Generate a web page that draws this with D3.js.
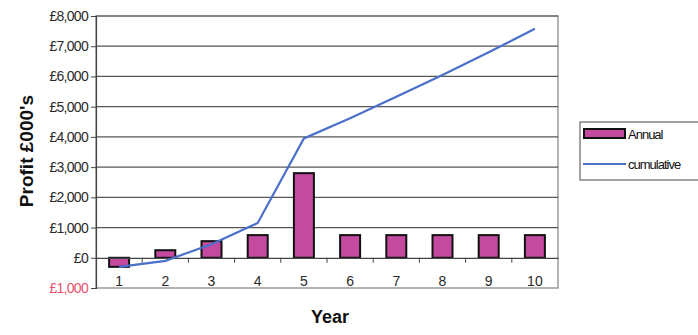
<!DOCTYPE html>
<html>
<head>
<meta charset="utf-8">
<script src="https://cdn.jsdelivr.net/npm/d3@7"></script>
<style>
  body { margin: 0; background: #fff; }
  text { font-family: Arial, "Liberation Sans", sans-serif; }
</style>
</head>
<body>
<script>
// chart data
const years = ["1", "2", "3", "4", "5", "6", "7", "8", "9", "10"];
const annual = [-300, 250, 550, 750, 2800, 750, 750, 750, 750, 750];
const cumulative = [-300, -100, 450, 1150, 3950, 4620, 5330, 6050, 6800, 7580];
const yTicks = [-1000, 0, 1000, 2000, 3000, 4000, 5000, 6000, 7000, 8000];

const W = 698, H = 335;
const pLeft = 96, pRight = 558, pTop = 16, pBottom = 288;

const svg = d3.select("body").append("svg")
    .attr("width", W)
    .attr("height", H);

const x = d3.scaleBand().domain(years).range([pLeft, pRight]);
const y = d3.scaleLinear().domain([-1000, 8000]).range([pBottom, pTop]);

// plot border
svg.append("rect")
    .attr("x", pLeft).attr("y", pTop)
    .attr("width", pRight - pLeft).attr("height", pBottom - pTop)
    .attr("fill", "none").attr("stroke", "#9a9a9a").attr("stroke-width", 1.5);

// gridlines
svg.selectAll("line.grid")
    .data(yTicks.filter(d => d > 0))
    .enter().append("line")
    .attr("class", "grid")
    .attr("x1", pLeft).attr("x2", pRight)
    .attr("y1", d => y(d)).attr("y2", d => y(d))
    .attr("stroke", "#555").attr("stroke-width", 1.2);

// y axis
const yAxis = svg.append("g")
    .attr("transform", `translate(${pLeft},0)`)
    .call(d3.axisLeft(y).tickValues(yTicks).tickSize(5)
        .tickFormat(d => "£" + d3.format(",")(Math.abs(d))));
yAxis.select(".domain").attr("stroke", "#444").attr("stroke-width", 1.2);
yAxis.selectAll(".tick line").attr("stroke", "#444");
yAxis.selectAll(".tick text")
    .attr("font-size", 14)
    .attr("letter-spacing", -0.7)
    .attr("fill", d => d < 0 ? "#e8506e" : "#2a2a2a")
    .attr("x", -8);

// bars
svg.selectAll("rect.bar")
    .data(annual)
    .enter().append("rect")
    .attr("class", "bar")
    .attr("x", (d, i) => x(years[i]) + x.bandwidth() / 2 - 10)
    .attr("width", 20)
    .attr("y", d => y(Math.max(0, d)))
    .attr("height", d => Math.abs(y(d) - y(0)))
    .attr("fill", "#c34a9e")
    .attr("stroke", "#111")
    .attr("stroke-width", 2);

// x axis on zero
const xAxis = svg.append("g")
    .attr("transform", `translate(0,${y(0)})`)
    .call(d3.axisBottom(x).tickSize(0).tickPadding(0));
xAxis.select(".domain").attr("stroke", "#444").attr("stroke-width", 1.2);
xAxis.selectAll(".tick text")
    .attr("font-size", 14)
    .attr("fill", "#2a2a2a")
    .attr("y", 18)
    .attr("dy", "0.71em");

// ticks at category boundaries
svg.selectAll("line.xt")
    .data(years.slice(1))
    .enter().append("line")
    .attr("class", "xt")
    .attr("x1", d => x(d)).attr("x2", d => x(d))
    .attr("y1", y(0)).attr("y2", y(0) + 5)
    .attr("stroke", "#444");

// cumulative line
const line = d3.line()
    .x((d, i) => x(years[i]) + x.bandwidth() / 2)
    .y(d => y(d));
svg.append("path")
    .datum(cumulative)
    .attr("d", line)
    .attr("fill", "none")
    .attr("stroke", "#4a70c9")
    .attr("stroke-width", 2.2);

// axis titles
svg.append("text")
    .attr("transform", `translate(33,151) rotate(-90)`)
    .attr("text-anchor", "middle")
    .attr("font-size", 19)
    .attr("font-weight", "bold")
    .attr("fill", "#111")
    .text("Profit £000's");

svg.append("text")
    .attr("x", 330).attr("y", 323)
    .attr("text-anchor", "middle")
    .attr("font-size", 18)
    .attr("font-weight", "bold")
    .attr("fill", "#111")
    .text("Year");

// legend
const lg = svg.append("g");
lg.append("rect")
    .attr("x", 580).attr("y", 122)
    .attr("width", 130).attr("height", 58)
    .attr("fill", "#fff").attr("stroke", "#666").attr("stroke-width", 1.2);
lg.append("rect")
    .attr("x", 584).attr("y", 129)
    .attr("width", 41).attr("height", 9)
    .attr("fill", "#c34a9e").attr("stroke", "#111").attr("stroke-width", 2);
lg.append("text")
    .attr("x", 628).attr("y", 139)
    .attr("font-size", 13).attr("letter-spacing", -1)
    .attr("fill", "#111")
    .text("Annual");
lg.append("line")
    .attr("x1", 583).attr("x2", 626)
    .attr("y1", 164).attr("y2", 164)
    .attr("stroke", "#4a70c9").attr("stroke-width", 2.2);
lg.append("text")
    .attr("x", 628).attr("y", 169)
    .attr("font-size", 13).attr("letter-spacing", -1)
    .attr("fill", "#111")
    .text("cumulative");
</script>
</body>
</html>
